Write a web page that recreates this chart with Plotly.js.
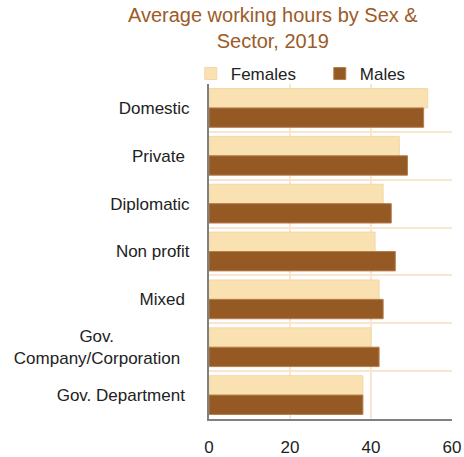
<!DOCTYPE html>
<html>
<head>
<meta charset="utf-8">
<script src="https://cdn.plot.ly/plotly-3.0.1.min.js"></script>
<style>html,body{margin:0;padding:0;background:#fff;}#chart{width:464px;height:457px;}</style>
</head>
<body>
<div id="chart"></div>
<script>
const sectors = ["Domestic", "Private\u00A0", "Diplomatic", "Non profit", "Mixed\u00A0", "Gov.\u00A0\u00A0\u00A0\u00A0\u00A0\u00A0\u00A0\u00A0\u00A0\u00A0\u00A0\u00A0\u00A0\u00A0\u00A0\u00A0<br>Company/Corporation\u00A0\u00A0", "Gov. Department\u00A0"];
const females = [54, 47, 43, 41, 42, 40, 38];
const males = [53, 49, 45, 46, 43, 42, 38];
const xTicks = [0, 20, 40, 60];

const traces = [
  {type: 'bar', orientation: 'h', name: 'Females', y: sectors, x: females,
   marker: {color: '#F9E1B2', line: {color: '#f3d7a6', width: 1}}, hoverinfo: 'x'},
  {type: 'bar', orientation: 'h', name: 'Males', y: sectors, x: males,
   marker: {color: '#955A24', line: {color: '#b47e4f', width: 1}}, hoverinfo: 'x'}
];

const layout = {
  width: 464, height: 457,
  margin: {l: 209, r: 12, t: 84, b: 38, autoexpand: false},
  paper_bgcolor: '#fff', plot_bgcolor: '#fff',
  font: {family: 'Liberation Sans, Arial, sans-serif', color: '#222', size: 17},
  title: {text: 'Average working hours by Sex &<br>Sector, 2019', font: {size: 20, color: '#9C5B27'},
          x: 0.588, xanchor: 'center', xref: 'container', y: 1 - 22/457, yanchor: 'middle', yref: 'container'},
  barmode: 'group', bargap: 0.19, bargroupgap: 0,
  showlegend: true,
  legend: {orientation: 'h', x: -0.075, xanchor: 'left', xref: 'paper', y: 1.03, yanchor: 'middle', yref: 'paper',
           font: {size: 17, color: '#222'}, entrywidth: 84, entrywidthmode: 'pixels', traceorder: 'normal',
           bgcolor: 'rgba(0,0,0,0)'},
  xaxis: {range: [0, 60], tickvals: xTicks, ticktext: xTicks.map(String), showgrid: true, gridcolor: '#FBE5D0', gridwidth: 2,
          zeroline: false, showline: true, linecolor: '#808080', linewidth: 2, ticks: '', ticklabelstandoff: 12,
          tickfont: {size: 17, color: '#222'}, fixedrange: true},
  yaxis: {type: 'category', autorange: 'reversed', tickson: 'boundaries', showgrid: true, gridcolor: '#FBE5D0', gridwidth: 2,
          showline: true, linecolor: '#808080', linewidth: 2, ticks: '', ticklabelstandoff: 14,
          tickfont: {size: 17, color: '#222'}, fixedrange: true}
};

Plotly.newPlot('chart', traces, layout, {displayModeBar: false, staticPlot: true});
</script>
</body>
</html>
